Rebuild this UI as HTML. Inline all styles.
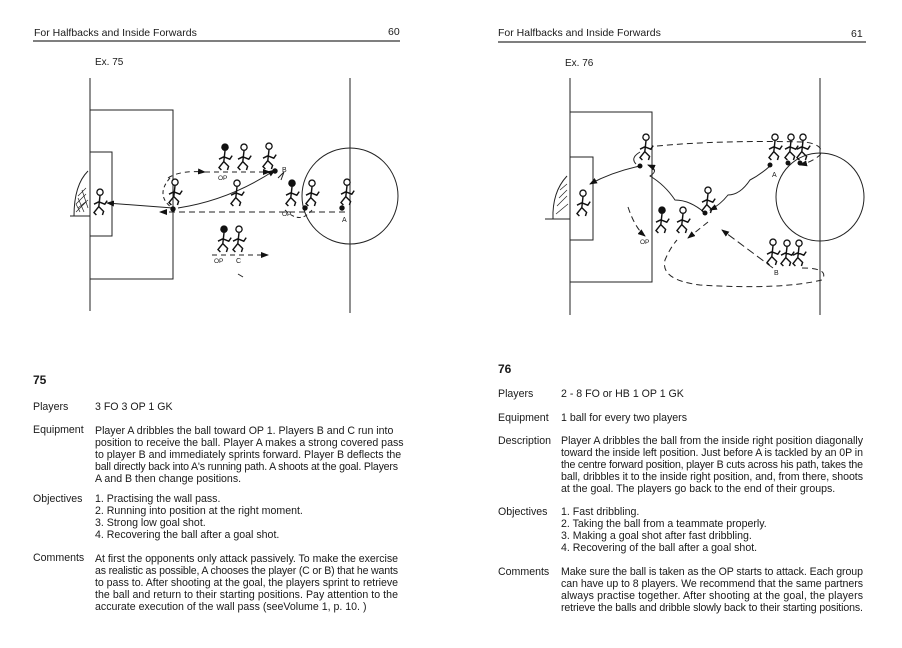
<!DOCTYPE html>
<html><head><meta charset="utf-8"><style>
html,body{margin:0;padding:0;background:#fff}
svg{display:block}
text{font-family:"Liberation Sans",sans-serif;fill:#1a1a1a}
.t{font-size:10.6px}
</style></head><body>
<svg width="902" height="648" viewBox="0 0 902 648" xmlns="http://www.w3.org/2000/svg">
<defs>
<g id="fig0" fill="none" stroke="#111" stroke-width="1.2">
<path d="M0 -16 L-1 -7 M-1 -11 L4 -9 L6 -12 M-1 -11 L-5 -9 M-1 -7 L3 -3 L2 0 M-1 -7 L-5 -2 L-3 0"/>
</g>
<g id="fig"><g transform="scale(1.2)"><circle cx="0" cy="-19" r="2.6" fill="#fff" stroke="#111" stroke-width="1.1"/><use href="#fig0"/></g></g>
<g id="figk"><g transform="scale(1.2)"><circle cx="0" cy="-19" r="2.6" fill="#111" stroke="#111" stroke-width="1.1"/><use href="#fig0"/></g></g>
<marker id="ah" markerWidth="8" markerHeight="6" refX="7" refY="3" orient="auto" markerUnits="userSpaceOnUse"><path d="M0 0 L8 3 L0 6 z" fill="#111"/></marker>
</defs>
<!-- headers -->
<text x="34" y="36" style="font-size:10.5px">For Halfbacks and Inside Forwards</text>
<text x="388" y="35" style="font-size:10.5px">60</text>
<line x1="33" y1="41" x2="400" y2="41" stroke="#333" stroke-width="1.2"/>
<text x="498" y="36" style="font-size:10.5px">For Halfbacks and Inside Forwards</text>
<text x="851" y="37" style="font-size:10.5px">61</text>
<line x1="498" y1="42" x2="866" y2="42" stroke="#333" stroke-width="1.2"/>
<text x="95" y="65" style="font-size:10px">Ex. 75</text>
<text x="565" y="66" style="font-size:10px">Ex. 76</text>

<!-- diagram 75 -->
<g fill="none" stroke="#222" stroke-width="1">
<line x1="90" y1="78" x2="90" y2="311"/>
<path d="M90 110 H173 V279 H90"/>
<path d="M90 152 H112 V236 H90"/>
<line x1="350" y1="78" x2="350" y2="313"/>
<circle cx="350" cy="196" r="48"/>
<path d="M70 216 L90 216 M74 216 Q74 185 88 171"/>
<path d="M76 212 l10 -10 M76 204 l10 -10 M78 196 l8 -8 M80 212 l-4 -8 M84 212 l-6 -14 M88 208 l-6 -18 M78 208 l10 -8" stroke-width="0.7"/>
<path d="M173 208 L107 203" marker-end="url(#ah)"/>
<path d="M178 208 Q230 200 275 170" marker-end="url(#ah)" />
<path d="M345 212 H160" stroke-dasharray="6 4" marker-end="url(#ah)"/>
<path d="M168 178 Q180 170 205 172" stroke-dasharray="5 4" marker-end="url(#ah)"/>
<path d="M205 172 H270" stroke-dasharray="5 4" marker-end="url(#ah)"/>
<path d="M170 178 Q155 195 172 208" stroke-dasharray="4 3"/>
<path d="M285 210 Q300 225 312 210" stroke-dasharray="4 3"/>
<path d="M284 172 L278 178 M284 172 L281 180"/>
<path d="M212 255 H268" stroke-dasharray="5 4" marker-end="url(#ah)"/>
<path d="M238 274 l5 3"/>
</g>
<g fill="#111"><circle cx="275" cy="171" r="2.7"/><circle cx="173" cy="209" r="2.7"/><circle cx="305" cy="208" r="2.7"/><circle cx="342" cy="208" r="2.7"/></g>
<use href="#fig" x="100" y="215"/>
<use href="#fig" x="175" y="205"/>
<use href="#figk" x="225" y="170"/>
<use href="#fig" x="244" y="170"/>
<use href="#fig" x="269" y="169"/>
<use href="#fig" x="237" y="206"/>
<use href="#figk" x="292" y="206"/>
<use href="#fig" x="312" y="206"/>
<use href="#fig" x="347" y="205"/>
<use href="#figk" x="224" y="252"/>
<use href="#fig" x="239" y="252"/>
<text x="282" y="172" style="font-size:7px">B</text>
<text x="218" y="180" style="font-size:6.5px">OP</text>
<text x="282" y="216" style="font-size:6.5px">OP</text>
<text x="342" y="222" style="font-size:7px">A</text>
<text x="214" y="263" style="font-size:6.5px">OP</text>
<text x="236" y="263" style="font-size:7px">C</text>

<!-- diagram 76 -->
<g fill="none" stroke="#222" stroke-width="1">
<line x1="570" y1="78" x2="570" y2="315"/>
<path d="M570 112 H652 V282 H570"/>
<path d="M570 157 H593 V240 H570"/>
<line x1="820" y1="78" x2="820" y2="315"/>
<circle cx="820" cy="197" r="44"/>
<path d="M545 219 L570 219 M553 219 Q552 192 567 176"/>
<path d="M556 214 l12 -10 M557 206 l10 -10 M559 198 l8 -8 M560 190 l7 -6" stroke-width="0.7"/>
<path d="M640 166 Q612 172 590 184" marker-end="url(#ah)"/>
<path d="M705 213 Q690 200 675 200 Q665 185 650 176 Q660 170 648 165" marker-end="url(#ah)"/>
<path d="M770 166 Q760 175 750 180 Q740 195 728 195 Q720 205 710 210" marker-end="url(#ah)"/>
<path d="M657 146 Q720 140 805 142 Q825 145 820 155 Q812 162 800 165" stroke-dasharray="6 4" marker-end="url(#ah)"/>
<path d="M802 268 Q830 268 822 280 Q780 290 700 285 Q660 280 665 260 Q670 248 677 240" stroke-dasharray="6 4"/>
<path d="M773 268 L722 230" stroke-dasharray="8 4" marker-end="url(#ah)"/>
<path d="M708 222 L688 238" stroke-dasharray="6 4" marker-end="url(#ah)"/>
<path d="M628 207 Q635 228 645 236" stroke-dasharray="6 4" marker-end="url(#ah)"/>
<path d="M640 152 Q630 158 636 164"/>
</g>
<g fill="#111"><circle cx="640" cy="166" r="2.5"/><circle cx="705" cy="213" r="2.5"/><circle cx="770" cy="165" r="2.5"/><circle cx="788" cy="163" r="2.5"/><circle cx="800" cy="163" r="2.5"/></g>
<use href="#fig" x="583" y="216"/>
<use href="#fig" x="646" y="160"/>
<use href="#fig" x="775" y="160"/>
<use href="#fig" x="791" y="160"/>
<use href="#fig" x="803" y="160"/>
<use href="#fig" x="708" y="213"/>
<use href="#figk" x="662" y="233"/>
<use href="#fig" x="683" y="233"/>
<use href="#fig" x="773" y="265"/>
<use href="#fig" x="787" y="266"/>
<use href="#fig" x="799" y="266"/>
<text x="772" y="177" style="font-size:7px">A</text>
<text x="640" y="244" style="font-size:6.5px">OP</text>
<text x="774" y="275" style="font-size:7px">B</text>

<!-- page 60 text -->
<text x="33" y="384" style="font-size:12px;font-weight:bold">75</text>
<g class="t">
<text x="33" y="410">Players</text><text x="95" y="410">3 FO   3 OP   1 GK</text>
<text x="33" y="433">Equipment</text>
<text x="95" y="434">Player A dribbles the ball toward OP 1. Players B and C run into</text>
<text x="95" y="446">position to receive the ball. Player A makes a strong covered pass</text>
<text x="95" y="458">to player B and immediately sprints forward. Player B deflects the</text>
<text x="95" y="470" textLength="303">ball directly back into A's running path. A shoots at the goal. Players</text>
<text x="95" y="482">A and B then change positions.</text>
<text x="33" y="502">Objectives</text>
<text x="95" y="502">1. Practising the wall pass.</text>
<text x="95" y="514">2. Running into position at the right moment.</text>
<text x="95" y="526">3. Strong low goal shot.</text>
<text x="95" y="538">4. Recovering the ball after a goal shot.</text>
<text x="33" y="561">Comments</text>
<text x="95" y="562" textLength="303">At first the opponents only attack passively. To make the exercise</text>
<text x="95" y="574" textLength="303">as realistic as possible, A chooses the player (C or B) that he wants</text>
<text x="95" y="586" textLength="303">to pass to. After shooting at the goal, the players sprint to retrieve</text>
<text x="95" y="598" textLength="303">the ball and return to their starting positions. Pay attention to the</text>
<text x="95" y="610">accurate execution of the wall pass (seeVolume 1, p. 10. )</text>
</g>

<!-- page 61 text -->
<text x="498" y="373" style="font-size:12px;font-weight:bold">76</text>
<g class="t">
<text x="498" y="397">Players</text><text x="561" y="397">2 - 8 FO or HB    1 OP   1 GK</text>
<text x="498" y="421">Equipment</text><text x="561" y="421">1 ball for every two players</text>
<text x="498" y="444">Description</text>
<text x="561" y="444" textLength="302">Player A dribbles the ball from the inside right position diagonally</text>
<text x="561" y="456" textLength="302">toward the inside left position. Just before A is tackled by an 0P in</text>
<text x="561" y="468" textLength="302">the centre forward position, player B cuts across his path, takes the</text>
<text x="561" y="480" textLength="302">ball, dribbles it to the inside right position, and, from there, shoots</text>
<text x="561" y="492">at the goal. The players go back to the end of their groups.</text>
<text x="498" y="515">Objectives</text>
<text x="561" y="515">1. Fast dribbling.</text>
<text x="561" y="527">2. Taking the ball from a teammate properly.</text>
<text x="561" y="539">3. Making a goal shot after fast dribbling.</text>
<text x="561" y="551">4. Recovering of the ball after a goal shot.</text>
<text x="498" y="575">Comments</text>
<text x="561" y="575" textLength="302">Make sure the ball is taken as the OP starts to attack. Each group</text>
<text x="561" y="587" textLength="302">can have up to 8 players. We recommend that the same partners</text>
<text x="561" y="599" textLength="302">always practise together. After shooting at the goal, the players</text>
<text x="561" y="611" textLength="302">retrieve the balls and dribble slowly back to their starting positions.</text>
</g>
</svg>
</body></html>
